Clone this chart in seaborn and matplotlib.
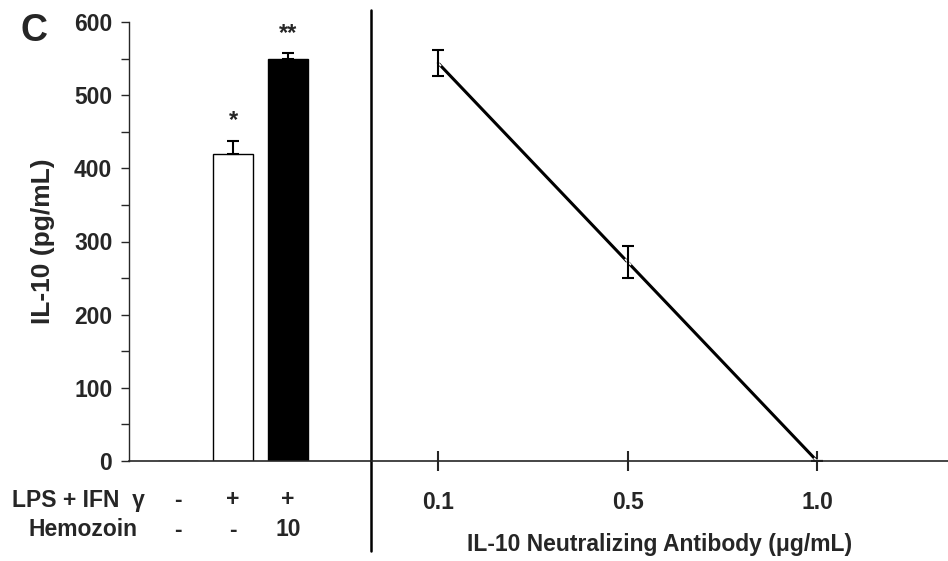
import matplotlib
matplotlib.use("Agg")
import matplotlib.pyplot as plt
import matplotlib.transforms as mtransforms
from matplotlib.ticker import MultipleLocator
import seaborn as sns

# data
bar_groups = ["ctrl", "LPS+IFNg", "LPS+IFNg+Hz"]
bar_means = [0, 420, 550]
bar_err = [0, 18, 7]
bar_stars = ["", "*", "**"]
lps_row = ["-", "+", "+"]
hz_row = ["-", "-", "10"]

ab_doses = ["0.1", "0.5", "1.0"]
ab_means = [544, 272, 0]
ab_err = [18, 22, 0]

sns.set_style("ticks")
plt.rcParams["font.family"] = ["Liberation Sans", "DejaVu Sans"]
plt.rcParams["font.weight"] = "bold"

fig = plt.figure(figsize=(9.48, 5.61), dpi=100)
ax1 = fig.add_axes([129 / 948, 100 / 561, 242 / 948, 439 / 561])
ax2 = fig.add_axes([371 / 948, 100 / 561, 577 / 948, 439 / 561], sharey=ax1)

# -------------------------------
# left panel: bars
# -------------------------------
sns.barplot(x=bar_groups, y=bar_means, hue=bar_groups,
            palette=["white", "white", "black"], legend=False,
            edgecolor="black", linewidth=1, width=0.73, errorbar=None, ax=ax1)
xs = list(range(len(bar_groups)))
ax1.errorbar(xs[1:], bar_means[1:], yerr=[[0, 0], bar_err[1:]], fmt="none",
             ecolor="black", elinewidth=1.5, capsize=4, capthick=1.5)
for x, m, e, s in zip(xs, bar_means, bar_err, bar_stars):
    if s:
        ax1.text(x, m + e + 18, s, ha="center", va="baseline",
                 fontsize=17, fontweight="bold")

ax1.set_xlim(-0.891, 3.509)
ax1.set_ylim(0, 600)
ax1.yaxis.set_major_locator(MultipleLocator(100))
ax1.yaxis.set_minor_locator(MultipleLocator(50))
ax1.tick_params(axis="y", which="both", direction="out", length=6, width=1,
                labelsize=16.5, pad=6)
ax1.set_xticks([])
ax1.set_xlabel("")
ax1.set_ylabel("IL-10 (pg/mL)", fontsize=19, fontweight="bold", labelpad=14)
for lab in ax1.get_yticklabels():
    lab.set_fontweight("bold")
ax1.spines["top"].set_visible(False)
ax1.spines["right"].set_visible(False)
ax1.spines["left"].set_linewidth(1)
ax1.spines["bottom"].set_linewidth(1.2)

# treatment rows under the bars
trans = mtransforms.blended_transform_factory(ax1.transData, fig.transFigure)
for x, a, b in zip(xs, lps_row, hz_row):
    fig.text(x, 1 - 500 / 561, a, transform=trans, ha="center", va="center",
             fontsize=16.5, fontweight="bold")
    fig.text(x, 1 - 530 / 561, b, transform=trans, ha="center", va="center",
             fontsize=16.5, fontweight="bold")
fig.text(145 / 948, 1 - 500 / 561, "LPS + IFN  γ", ha="right", va="center",
         fontsize=16.5, fontweight="bold")
fig.text(138 / 948, 1 - 530 / 561, "Hemozoin", ha="right", va="center",
         fontsize=16.5, fontweight="bold")
fig.text(20 / 948, 1 - 31 / 561, "C", ha="left", va="center",
         fontsize=27, fontweight="bold")

# -------------------------------
# right panel: neutralizing antibody
# -------------------------------
sns.lineplot(x=ab_doses, y=ab_means, color="black", linewidth=2.2,
             marker="x", markersize=5, markeredgewidth=1.2, ax=ax2)
ax2.errorbar(range(len(ab_doses)), ab_means, yerr=ab_err, fmt="none",
             ecolor="black", elinewidth=1.5, capsize=4, capthick=1.5)
ax2.set_xlim(-0.354, 2.691)
ax2.tick_params(axis="x", direction="inout", length=15, width=1.5,
                labelsize=16.5, pad=14)
for lab in ax2.get_xticklabels():
    lab.set_fontweight("bold")
ax2.tick_params(axis="y", which="both", left=False, labelleft=False)
ax2.set_xlabel("IL-10 Neutralizing Antibody (μg/mL)", fontsize=16.5,
               fontweight="bold", labelpad=14)
ax2.set_ylabel("")
ax2.spines["top"].set_visible(False)
ax2.spines["right"].set_visible(False)
ax2.spines["left"].set_visible(False)
ax2.spines["bottom"].set_linewidth(1.2)

# divider between the two panels
ax2.plot([0, 0], [-0.2050, 1.0274], transform=ax2.transAxes, color="black",
         linewidth=1.8, clip_on=False)

fig.savefig("out.png", dpi=100)
